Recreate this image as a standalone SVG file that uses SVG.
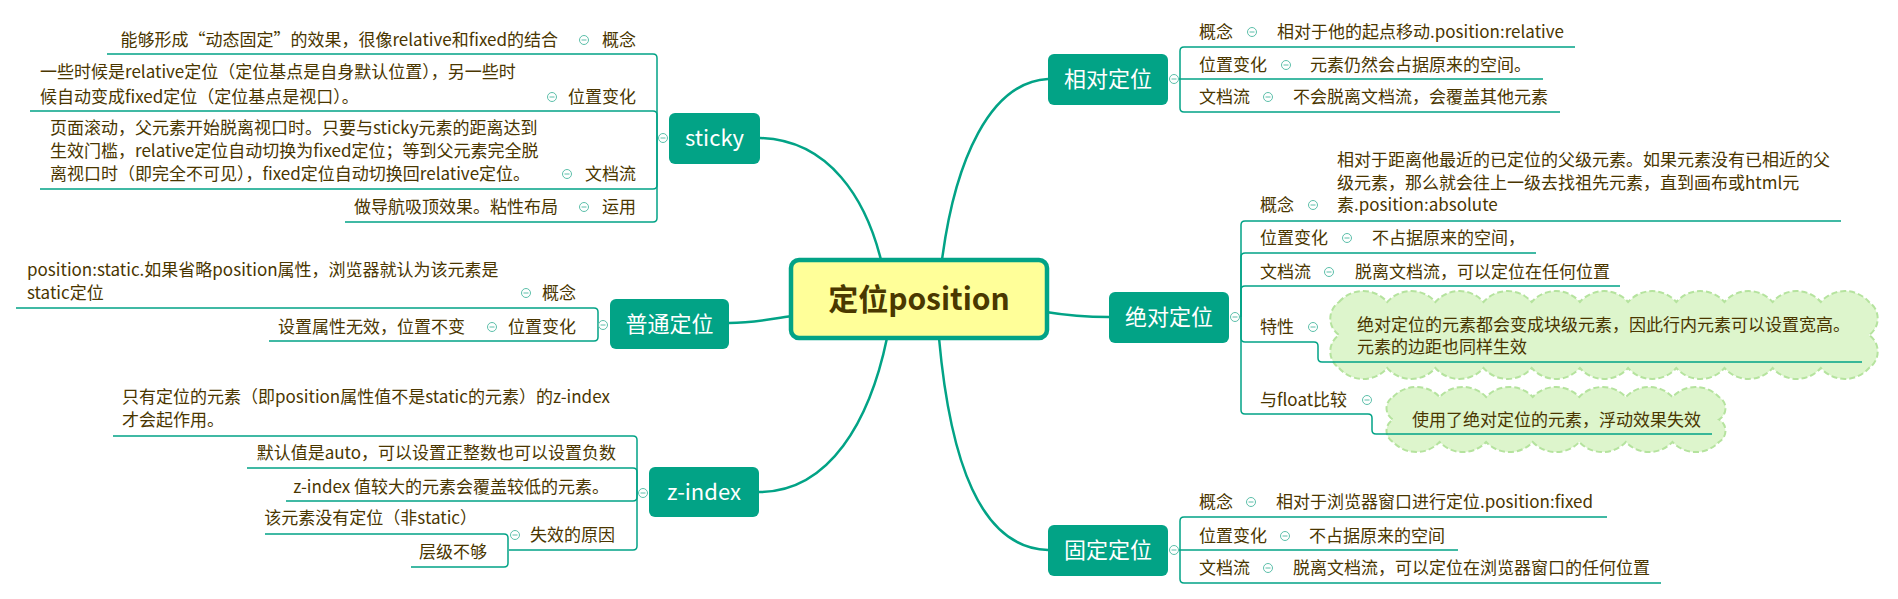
<svg xmlns="http://www.w3.org/2000/svg" xmlns:xlink="http://www.w3.org/1999/xlink" width="1898" height="599" viewBox="0 0 1898 599">
<style>
.ln{fill:none;stroke:#02A386;stroke-width:1.5}
.mc{fill:none;stroke:#02A386;stroke-width:2.5}
.t{font-family:"Noto Sans CJK SC","Microsoft YaHei",sans-serif;font-size:17px;fill:#4A3600}
.e{text-anchor:end}
.nd{fill:#02A386}
.nt{font-family:"Noto Sans CJK SC","Microsoft YaHei",sans-serif;font-size:22px;fill:#fff;text-anchor:middle}
.cloud{fill:#DDF5CC;stroke:#B5E39E;stroke-width:2;stroke-dasharray:6 3}
</style>
<defs>
<g id="tg"><circle r="4.5" fill="#fff" stroke="#5CBFAA" stroke-width="1"/><line x1="-2.5" x2="2.5" y1="0" y2="0" stroke="#5CBFAA" stroke-width="1"/></g>
</defs>
<rect width="1898" height="599" fill="#fff"/>

<g id="clouds">
<path class="cloud" d="M1339,302 a32 32 0 0 1 48.182 0 a32 32 0 0 1 48.182 0 a32 32 0 0 1 48.182 0 a32 32 0 0 1 48.182 0 a32 32 0 0 1 48.182 0 a32 32 0 0 1 48.182 0 a32 32 0 0 1 48.182 0 a32 32 0 0 1 48.182 0 a32 32 0 0 1 48.182 0 a32 32 0 0 1 48.182 0 a32 32 0 0 1 48.182 0 a20 20 0 0 1 0 33 a20 20 0 0 1 0 33 a32 32 0 0 1 -48.182 0 a32 32 0 0 1 -48.182 0 a32 32 0 0 1 -48.182 0 a32 32 0 0 1 -48.182 0 a32 32 0 0 1 -48.182 0 a32 32 0 0 1 -48.182 0 a32 32 0 0 1 -48.182 0 a32 32 0 0 1 -48.182 0 a32 32 0 0 1 -48.182 0 a32 32 0 0 1 -48.182 0 a32 32 0 0 1 -48.182 0 a20 20 0 0 1 0 -33 a20 20 0 0 1 0 -33 Z"/>
<path class="cloud" d="M1393,397 a32 32 0 0 1 46.571 0 a32 32 0 0 1 46.571 0 a32 32 0 0 1 46.571 0 a32 32 0 0 1 46.571 0 a32 32 0 0 1 46.571 0 a32 32 0 0 1 46.571 0 a32 32 0 0 1 46.571 0 a13 13 0 0 1 0 22.5 a13 13 0 0 1 0 22.5 a32 32 0 0 1 -46.571 0 a32 32 0 0 1 -46.571 0 a32 32 0 0 1 -46.571 0 a32 32 0 0 1 -46.571 0 a32 32 0 0 1 -46.571 0 a32 32 0 0 1 -46.571 0 a32 32 0 0 1 -46.571 0 a13 13 0 0 1 0 -22.5 a13 13 0 0 1 0 -22.5 Z"/>
</g>

<g id="connectors">
<path class="mc" d="M881,260 C866,200 830,140 760,138"/>
<path class="mc" d="M942,260 C955,160 990,82 1048,79"/>
<path class="mc" d="M792,316 C770,319 755,323 729,323"/>
<path class="mc" d="M1046,312 C1070,316 1085,317 1109,317"/>
<path class="mc" d="M887,338 C870,420 830,492 759,492"/>
<path class="mc" d="M939,338 C950,460 980,548 1048,550"/>
<!-- sticky -->
<path class="ln" d="M657,138 V58 Q657,54 653,54 H107"/>
<path class="ln" d="M657,138 V115 Q657,111 653,111 H30"/>
<path class="ln" d="M657,138 V185 Q657,189 653,189 H40"/>
<path class="ln" d="M657,138 V218 Q657,222 653,222 H345"/>
<!-- 普通定位 -->
<path class="ln" d="M598,325 V312 Q598,308 594,308 H16"/>
<path class="ln" d="M598,325 V337 Q598,341 594,341 H269"/>
<!-- z-index -->
<path class="ln" d="M637,493 V440 Q637,436 633,436 H113"/>
<path class="ln" d="M637,493 V472 Q637,468 633,468 H247"/>
<path class="ln" d="M637,493 V497 Q637,501 633,501 H286"/>
<path class="ln" d="M637,493 V546 Q637,550 633,550 H509"/>
<path class="ln" d="M508,550 V538 Q508,534 504,534 H265"/>
<path class="ln" d="M508,550 V563 Q508,567 504,567 H411"/>
<!-- 相对定位 -->
<path class="ln" d="M1180,79 V51 Q1180,47 1184,47 H1575"/>
<path class="ln" d="M1179,79 H1543"/>
<path class="ln" d="M1180,79 V108 Q1180,112 1184,112 H1560"/>
<!-- 绝对定位 -->
<path class="ln" d="M1241,317 V225 Q1241,221 1245,221 H1841"/>
<path class="ln" d="M1241,317 V257 Q1241,253 1245,253 H1536"/>
<path class="ln" d="M1241,317 V290 Q1241,286 1245,286 H1620"/>
<path class="ln" d="M1241,317 V338 Q1241,342 1245,342 H1314 Q1318,342 1318,346 V358 Q1318,362 1322,362 H1862"/>
<path class="ln" d="M1241,317 V410 Q1241,414 1245,414 H1368 Q1372,414 1372,418 V430 Q1372,434 1376,434 H1712"/>
<!-- 固定定位 -->
<path class="ln" d="M1180,550 V521 Q1180,517 1184,517 H1607"/>
<path class="ln" d="M1179,550 H1458"/>
<path class="ln" d="M1180,550 V579 Q1180,583 1184,583 H1661"/>
</g>

<g id="center">
<rect x="791" y="260" width="256" height="78" rx="8" fill="#FFFF99" stroke="#02A386" stroke-width="4.5"/>
<text x="919" y="310" text-anchor="middle" font-family="'Noto Sans CJK SC','Microsoft YaHei',sans-serif" font-size="30" font-weight="bold" fill="#4A3800">定位position</text>
</g>

<g id="node-sticky">
<rect class="nd" x="669" y="113" width="91" height="51" rx="6"/>
<text class="nt" x="714.5" y="146">sticky</text>
<use xlink:href="#tg" x="663" y="138"/>
</g>
<g id="sticky-children">
<text class="t e" x="558" y="46">能够形成“动态固定”的效果，很像relative和fixed的结合</text>
<use xlink:href="#tg" x="584" y="40"/><text class="t e" x="636" y="46">概念</text>
<text class="t" x="40" y="78">一些时候是relative定位（定位基点是自身默认位置），另一些时</text>
<text class="t" x="40" y="103">候自动变成fixed定位（定位基点是视口）。</text>
<use xlink:href="#tg" x="552" y="97"/><text class="t e" x="636" y="103">位置变化</text>
<text class="t" x="50" y="134">页面滚动，父元素开始脱离视口时。只要与sticky元素的距离达到</text>
<text class="t" x="50" y="157">生效门槛，relative定位自动切换为fixed定位；等到父元素完全脱</text>
<text class="t" x="50" y="180">离视口时（即完全不可见），fixed定位自动切换回relative定位。</text>
<use xlink:href="#tg" x="567" y="174"/><text class="t e" x="636" y="180">文档流</text>
<text class="t e" x="558" y="213">做导航吸顶效果。粘性布局</text>
<use xlink:href="#tg" x="584" y="207"/><text class="t e" x="636" y="213">运用</text>
</g>

<g id="node-normal">
<rect class="nd" x="610" y="299" width="119" height="50" rx="6"/>
<text class="nt" x="669.5" y="332">普通定位</text>
<use xlink:href="#tg" x="603" y="325"/>
</g>
<g id="normal-children">
<text class="t" x="27" y="276">position:static.如果省略position属性，浏览器就认为该元素是</text>
<text class="t" x="27" y="299">static定位</text>
<use xlink:href="#tg" x="526" y="293"/><text class="t e" x="576" y="299">概念</text>
<text class="t e" x="465" y="333">设置属性无效，位置不变</text>
<use xlink:href="#tg" x="492" y="327"/><text class="t e" x="576" y="333">位置变化</text>
</g>

<g id="node-zindex">
<rect class="nd" x="649" y="467" width="110" height="50" rx="6"/>
<text class="nt" x="704" y="500">z-index</text>
<use xlink:href="#tg" x="643" y="493"/>
</g>
<g id="zindex-children">
<text class="t" x="122" y="403">只有定位的元素（即position属性值不是static的元素）的z-index</text>
<text class="t" x="122" y="426">才会起作用。</text>
<text class="t e" x="616" y="459">默认值是auto，可以设置正整数也可以设置负数</text>
<text class="t e" x="609" y="493">z-index 值较大的元素会覆盖较低的元素。</text>
<text class="t e" x="615" y="541">失效的原因</text>
<use xlink:href="#tg" x="515" y="535"/>
<text class="t e" x="477" y="524">该元素没有定位（非static）</text>
<text class="t e" x="487" y="558">层级不够</text>
</g>

<g id="node-relative">
<rect class="nd" x="1048" y="54" width="120" height="51" rx="6"/>
<text class="nt" x="1108" y="87">相对定位</text>
<use xlink:href="#tg" x="1174" y="79"/>
</g>
<g id="relative-children">
<text class="t" x="1199" y="38">概念</text><use xlink:href="#tg" x="1252" y="32"/>
<text class="t" x="1277" y="38">相对于他的起点移动.position:relative</text>
<text class="t" x="1199" y="71">位置变化</text><use xlink:href="#tg" x="1286" y="65"/>
<text class="t" x="1310" y="71">元素仍然会占据原来的空间。</text>
<text class="t" x="1199" y="103">文档流</text><use xlink:href="#tg" x="1268" y="97"/>
<text class="t" x="1293" y="103">不会脱离文档流，会覆盖其他元素</text>
</g>

<g id="node-absolute">
<rect class="nd" x="1109" y="292" width="120" height="51" rx="6"/>
<text class="nt" x="1169" y="325">绝对定位</text>
<use xlink:href="#tg" x="1235" y="317"/>
</g>
<g id="absolute-children">
<text class="t" x="1260" y="211">概念</text><use xlink:href="#tg" x="1313" y="205"/>
<text class="t" x="1337" y="166">相对于距离他最近的已定位的父级元素。如果元素没有已相近的父</text>
<text class="t" x="1337" y="189">级元素，那么就会往上一级去找祖先元素，直到画布或html元</text>
<text class="t" x="1337" y="211">素.position:absolute</text>
<text class="t" x="1260" y="244">位置变化</text><use xlink:href="#tg" x="1347" y="238"/>
<text class="t" x="1372" y="244">不占据原来的空间，</text>
<text class="t" x="1260" y="278">文档流</text><use xlink:href="#tg" x="1329" y="272"/>
<text class="t" x="1355" y="278">脱离文档流，可以定位在任何位置</text>
<text class="t" x="1260" y="333">特性</text><use xlink:href="#tg" x="1313" y="327"/>
<text class="t" x="1357" y="331">绝对定位的元素都会变成块级元素，因此行内元素可以设置宽高。</text>
<text class="t" x="1357" y="353">元素的边距也同样生效</text>
<text class="t" x="1260" y="406">与float比较</text><use xlink:href="#tg" x="1367" y="400"/>
<text class="t" x="1412" y="426">使用了绝对定位的元素，浮动效果失效</text>
</g>

<g id="node-fixed">
<rect class="nd" x="1048" y="525" width="120" height="51" rx="6"/>
<text class="nt" x="1108" y="558">固定定位</text>
<use xlink:href="#tg" x="1174" y="550"/>
</g>
<g id="fixed-children">
<text class="t" x="1199" y="508">概念</text><use xlink:href="#tg" x="1251" y="502"/>
<text class="t" x="1276" y="508">相对于浏览器窗口进行定位.position:fixed</text>
<text class="t" x="1199" y="542">位置变化</text><use xlink:href="#tg" x="1285" y="536"/>
<text class="t" x="1309" y="542">不占据原来的空间</text>
<text class="t" x="1199" y="574">文档流</text><use xlink:href="#tg" x="1268" y="568"/>
<text class="t" x="1293" y="574">脱离文档流，可以定位在浏览器窗口的任何位置</text>
</g>
</svg>
